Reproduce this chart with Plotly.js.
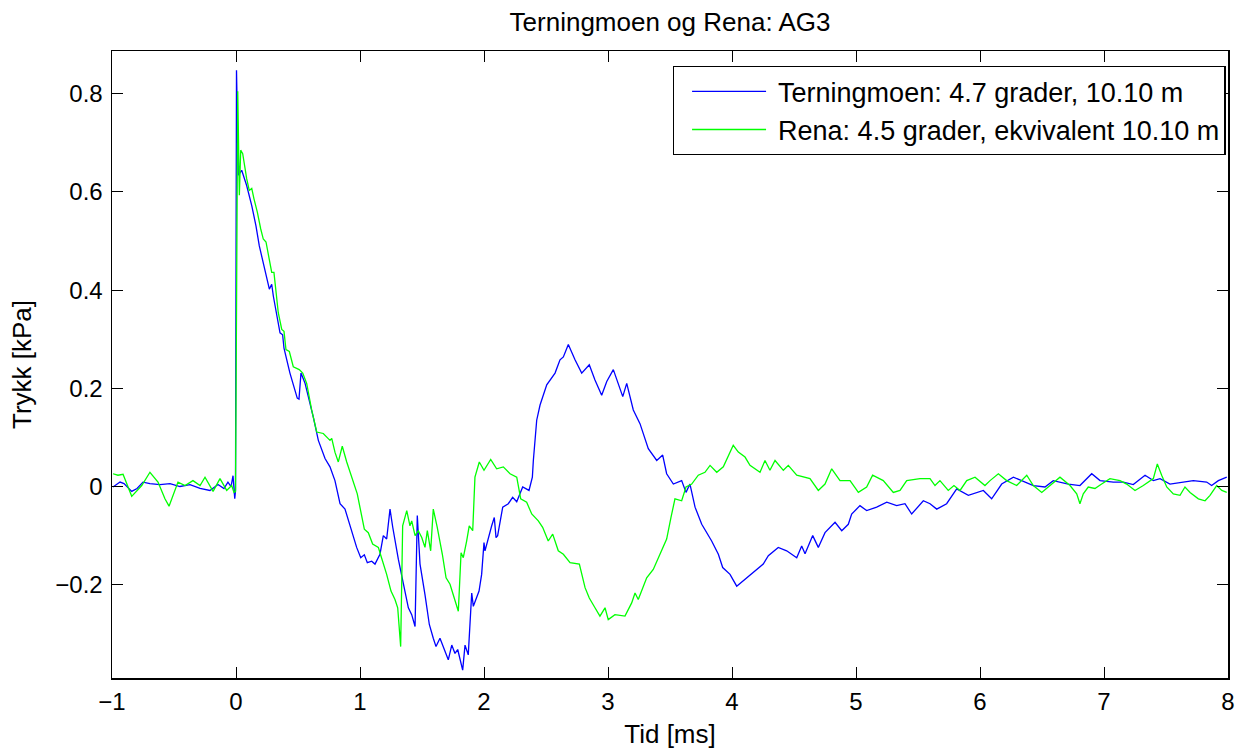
<!DOCTYPE html>
<html>
<head>
<meta charset="utf-8">
<script src="https://cdn.plot.ly/plotly-3.0.1.min.js"></script>
<style>
html,body{margin:0;padding:0;background:#fff;}
#chart{width:1252px;height:749px;}
</style>
</head>
<body>
<div id="chart"></div>
<script>
// Terningmoen: 4.7 grader, 10.10 m (blue)
const tBlue = [-0.992,-0.935,-0.903,-0.841,-0.798,-0.750,-0.694,-0.613,-0.532,-0.452,-0.371,-0.290,-0.210,-0.145,-0.097,-0.065,-0.040,-0.024,-0.010,-0.004,0.004,0.019,0.046,0.086,0.127,0.161,0.188,0.234,0.269,0.288,0.301,0.355,0.376,0.387,0.435,0.494,0.508,0.524,0.556,0.623,0.664,0.718,0.758,0.798,0.839,0.879,0.925,0.973,1.006,1.035,1.059,1.094,1.121,1.161,1.188,1.215,1.242,1.264,1.309,1.349,1.390,1.417,1.444,1.462,1.484,1.524,1.559,1.591,1.613,1.645,1.712,1.740,1.766,1.788,1.828,1.847,1.873,1.901,1.914,1.960,1.981,2.000,2.008,2.062,2.083,2.097,2.110,2.151,2.196,2.231,2.264,2.312,2.363,2.390,2.398,2.425,2.452,2.506,2.573,2.613,2.640,2.680,2.734,2.788,2.849,2.895,2.949,2.990,3.043,3.119,3.151,3.204,3.258,3.325,3.393,3.441,3.473,3.527,3.594,3.629,3.661,3.702,3.756,3.836,3.890,3.925,3.984,4.038,4.105,4.185,4.252,4.293,4.373,4.441,4.522,4.562,4.589,4.651,4.696,4.750,4.831,4.885,4.938,4.965,5.032,5.086,5.167,5.248,5.328,5.395,5.449,5.543,5.597,5.651,5.731,5.812,5.906,6.027,6.094,6.175,6.269,6.336,6.430,6.524,6.591,6.712,6.806,6.901,6.968,7.075,7.156,7.236,7.331,7.398,7.452,7.532,7.640,7.720,7.828,7.868,7.922,7.990];
const pBlue = [-0.001,0.009,0.006,-0.010,-0.004,0.009,0.006,0.004,0.006,0.000,0.004,-0.004,-0.008,0.004,-0.004,0.009,0.000,0.022,-0.025,-0.008,0.848,0.634,0.644,0.613,0.572,0.531,0.490,0.436,0.402,0.412,0.388,0.313,0.309,0.282,0.231,0.180,0.178,0.231,0.211,0.142,0.094,0.057,0.040,0.012,-0.035,-0.046,-0.083,-0.124,-0.145,-0.139,-0.155,-0.152,-0.158,-0.138,-0.100,-0.107,-0.046,-0.083,-0.148,-0.199,-0.247,-0.261,-0.285,-0.059,-0.158,-0.220,-0.281,-0.309,-0.326,-0.309,-0.353,-0.323,-0.340,-0.332,-0.374,-0.323,-0.343,-0.217,-0.244,-0.213,-0.179,-0.114,-0.131,-0.080,-0.063,-0.104,-0.100,-0.042,-0.035,-0.022,-0.031,-0.001,-0.008,0.019,0.053,0.135,0.166,0.207,0.231,0.258,0.264,0.289,0.258,0.231,0.248,0.217,0.186,0.214,0.238,0.183,0.210,0.156,0.128,0.077,0.053,0.064,0.026,0.005,0.012,-0.012,0.005,-0.042,-0.077,-0.111,-0.138,-0.165,-0.179,-0.203,-0.189,-0.172,-0.158,-0.141,-0.124,-0.131,-0.145,-0.121,-0.137,-0.100,-0.124,-0.094,-0.073,-0.090,-0.077,-0.056,-0.039,-0.049,-0.042,-0.032,-0.039,-0.035,-0.056,-0.029,-0.035,-0.046,-0.035,-0.005,-0.018,-0.008,-0.025,0.005,0.019,0.012,0.002,-0.001,0.012,0.005,0.002,0.026,0.012,0.009,0.009,0.004,0.023,0.012,0.016,0.005,0.009,0.012,0.009,0.002,0.012,0.019];

// Rena: 4.5 grader, ekvivalent 10.10 m (green)
const tGreen = [-0.992,-0.952,-0.911,-0.841,-0.760,-0.726,-0.694,-0.629,-0.573,-0.540,-0.468,-0.411,-0.347,-0.290,-0.250,-0.185,-0.129,-0.075,-0.035,-0.016,-0.004,0.014,0.027,0.038,0.054,0.073,0.086,0.107,0.127,0.145,0.172,0.199,0.220,0.242,0.288,0.306,0.341,0.369,0.387,0.403,0.430,0.462,0.510,0.538,0.570,0.610,0.651,0.704,0.758,0.772,0.798,0.825,0.857,0.893,0.933,0.978,1.035,1.067,1.102,1.148,1.161,1.215,1.250,1.282,1.304,1.328,1.344,1.377,1.403,1.417,1.444,1.470,1.498,1.524,1.543,1.570,1.591,1.623,1.664,1.694,1.726,1.758,1.793,1.815,1.833,1.860,1.881,1.909,1.927,1.962,2.000,2.054,2.102,2.156,2.210,2.264,2.296,2.344,2.385,2.438,2.473,2.518,2.554,2.599,2.640,2.694,2.769,2.815,2.849,2.895,2.935,2.976,3.002,3.056,3.137,3.191,3.218,3.244,3.312,3.365,3.433,3.473,3.508,3.540,3.594,3.629,3.675,3.728,3.782,3.823,3.877,3.930,4.010,4.051,4.105,4.145,4.226,4.266,4.306,4.347,4.414,4.454,4.522,4.629,4.696,4.750,4.804,4.871,4.952,5.019,5.086,5.134,5.220,5.301,5.355,5.409,5.516,5.597,5.637,5.677,5.744,5.790,5.839,5.893,5.960,6.040,6.081,6.148,6.215,6.296,6.377,6.430,6.498,6.551,6.645,6.726,6.780,6.806,6.833,6.873,6.927,6.981,7.048,7.129,7.183,7.250,7.317,7.398,7.430,7.465,7.506,7.559,7.613,7.653,7.694,7.761,7.815,7.855,7.909,7.950,7.990];
const pGreen = [0.026,0.023,0.025,-0.020,0.002,0.016,0.029,0.009,-0.025,-0.040,0.009,0.002,0.012,0.002,0.019,-0.010,0.016,-0.008,0.002,-0.012,-0.010,0.805,0.593,0.685,0.678,0.648,0.627,0.603,0.607,0.586,0.559,0.525,0.504,0.498,0.436,0.436,0.354,0.320,0.316,0.279,0.275,0.244,0.238,0.231,0.210,0.156,0.111,0.108,0.094,0.098,0.070,0.050,0.082,0.050,0.019,-0.015,-0.087,-0.094,-0.117,-0.124,-0.135,-0.179,-0.213,-0.230,-0.247,-0.326,-0.080,-0.049,-0.080,-0.070,-0.100,-0.090,-0.104,-0.124,-0.090,-0.131,-0.046,-0.083,-0.138,-0.186,-0.199,-0.227,-0.254,-0.135,-0.145,-0.111,-0.080,-0.090,0.019,0.050,0.033,0.055,0.036,0.040,0.026,0.019,-0.025,-0.032,-0.056,-0.070,-0.083,-0.111,-0.097,-0.131,-0.138,-0.155,-0.158,-0.206,-0.227,-0.247,-0.264,-0.247,-0.271,-0.261,-0.264,-0.237,-0.217,-0.230,-0.186,-0.169,-0.128,-0.107,-0.063,-0.025,-0.029,-0.001,0.005,0.023,0.029,0.043,0.029,0.040,0.084,0.070,0.060,0.043,0.029,0.053,0.033,0.053,0.033,0.043,0.023,0.016,-0.008,0.005,0.036,0.012,0.012,-0.012,-0.001,0.023,0.012,-0.012,-0.008,0.012,0.016,0.016,0.002,0.012,-0.008,0.002,-0.008,0.012,0.019,0.002,0.012,0.026,0.012,0.002,0.023,0.002,-0.012,-0.001,0.019,0.002,-0.015,-0.035,-0.015,-0.001,-0.004,0.005,0.016,0.012,0.005,-0.008,0.002,0.016,0.046,0.023,-0.001,-0.015,-0.018,-0.001,-0.012,-0.025,-0.029,-0.018,0.002,-0.008,-0.012];

const seriesNames = ['Terningmoen: 4.7 grader, 10.10 m', 'Rena: 4.5 grader, ekvivalent 10.10 m'];
const xTicks = [-1,0,1,2,3,4,5,6,7,8];
const xTickText = ['\u22121','0','1','2','3','4','5','6','7','8'];
const yTicks = [-0.2,0,0.2,0.4,0.6,0.8];
const yTickText = ['\u22120.2','0','0.2','0.4','0.6','0.8'];

const FONT = 'Liberation Sans, Arial, Helvetica, sans-serif';

const traces = [
  {x: tBlue, y: pBlue, type: 'scatter', mode: 'lines', name: seriesNames[0],
   line: {color: '#0000ff', width: 1.3}},
  {x: tGreen, y: pGreen, type: 'scatter', mode: 'lines', name: seriesNames[1],
   line: {color: '#00ff00', width: 1.3}}
];

const layout = {
  width: 1252, height: 749,
  margin: {l: 112, r: 24, t: 51, b: 71, pad: 0},
  paper_bgcolor: '#ffffff', plot_bgcolor: '#ffffff',
  font: {family: FONT, size: 24, color: '#000'},
  title: {text: 'Terningmoen og Rena: AG3', font: {family: FONT, size: 26, color: '#000'},
          x: 0.5, xref: 'paper', y: 0.9706, yanchor: 'middle'},
  xaxis: {
    range: [-1, 8], tickmode: 'array', tickvals: xTicks, ticktext: xTickText,
    ticks: 'inside', ticklen: 11, tickwidth: 1, tickcolor: '#000',
    showline: true, linecolor: '#000', linewidth: 1.5, mirror: 'ticks',
    showgrid: false, zeroline: false, ticklabelstandoff: 2,
    tickfont: {family: FONT, size: 24, color: '#000'},
    title: {text: 'Tid [ms]', font: {family: FONT, size: 26, color: '#000'}, standoff: 10}
  },
  yaxis: {
    range: [-0.39, 0.887], tickmode: 'array', tickvals: yTicks, ticktext: yTickText,
    ticks: 'inside', ticklen: 11, tickwidth: 1, tickcolor: '#000',
    showline: true, linecolor: '#000', linewidth: 1.5, mirror: 'ticks',
    showgrid: false, zeroline: false, ticklabelstandoff: 3,
    tickfont: {family: FONT, size: 24, color: '#000'},
    title: {text: 'Trykk [kPa]', font: {family: FONT, size: 26, color: '#000'}, standoff: 16}
  },
  showlegend: true,
  legend: {
    x: 0.998, xanchor: 'right', y: 0.976, yanchor: 'top',
    bgcolor: '#ffffff', bordercolor: '#000', borderwidth: 1.3,
    font: {family: FONT, size: 27, color: '#000'},
    itemwidth: 94, tracegroupgap: 0
  }
};

Plotly.newPlot('chart', traces, layout, {displayModeBar: false, staticPlot: true}).then(function () {
  // MATLAB-style longer legend line samples
  document.querySelectorAll('.legend .legendlines path').forEach(function (p) {
    p.setAttribute('d', 'M18,0h74');
  });
});
</script>
</body>
</html>
